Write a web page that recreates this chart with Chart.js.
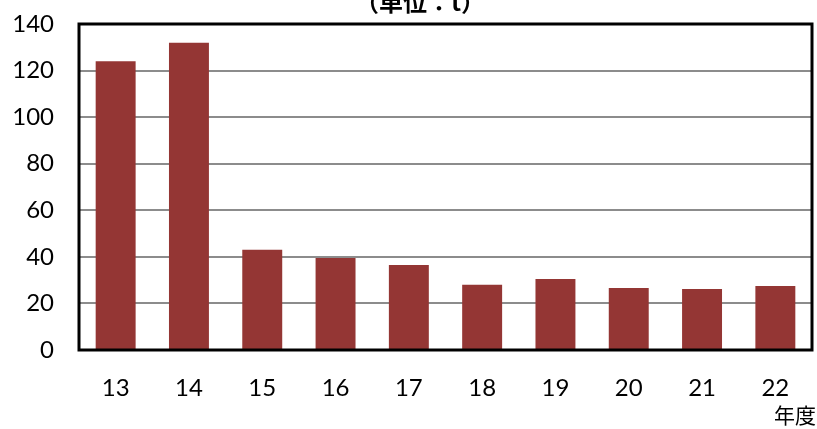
<!DOCTYPE html>
<html>
<head>
<meta charset="utf-8">
<script src="https://cdn.jsdelivr.net/npm/chart.js@4.4.0/dist/chart.umd.min.js"></script>
<style>
  html, body { margin: 0; padding: 0; background: #fff; }
  #wrap { width: 817px; height: 429px; position: relative; }
</style>
</head>
<body>
<div id="wrap"><canvas id="chart"></canvas></div>
<script>
// 年度 labels and amounts (単位：t)
const years = ["13", "14", "15", "16", "17", "18", "19", "20", "21", "22"];
const amounts = [124, 132, 43, 39.5, 36.5, 28, 30.5, 26.6, 26.2, 27.5];
const yTicks = [0, 20, 40, 60, 80, 100, 120, 140];

const FONT = "Lato, 'Noto Sans CJK JP', sans-serif";

// frame around plot area + extra labels
const framePlugin = {
    id: "frame",
    afterDraw(chart) {
        const { ctx, chartArea: a } = chart;
        ctx.save();
        ctx.strokeStyle = "#000";
        ctx.lineWidth = 3;
        ctx.strokeRect(a.left, a.top, a.right - a.left, a.bottom - a.top);

        ctx.fillStyle = "#000";
        ctx.font = "bold 24px 'Noto Sans CJK JP', sans-serif";
        ctx.textAlign = "center";
        ctx.textBaseline = "alphabetic";
        ctx.fillText("（単位：t）", 420, 11);

        ctx.font = "21px 'Noto Sans CJK JP', sans-serif";
        ctx.textAlign = "right";
        ctx.textBaseline = "middle";
        ctx.fillText("年度", 816, 415);
        ctx.restore();
    }
};

new Chart(document.getElementById("chart"), {
    type: "bar",
    data: {
        labels: years,
        datasets: [{
            data: amounts,
            backgroundColor: "#943634",
            borderWidth: 0,
            barPercentage: 0.545,
            categoryPercentage: 1.0
        }]
    },
    options: {
        responsive: true,
        maintainAspectRatio: false,
        animation: false,
        layout: { padding: { top: 24, right: 5, left: 0, bottom: 0 } },
        plugins: {
            legend: { display: false },
            tooltip: { enabled: false }
        },
        scales: {
            x: {
                grid: { display: false, drawTicks: false },
                border: { display: false },
                ticks: { color: "#000", font: { family: FONT, size: 24 }, padding: 24 },
                afterFit(s) { s.height = 79; s.paddingLeft = 0; s.paddingRight = 0; }
            },
            y: {
                min: 0,
                max: 140,
                afterBuildTicks(s) { s.ticks = yTicks.map(v => ({ value: v })); },
                grid: { color: "#8c8c8c", lineWidth: 2, drawTicks: false },
                border: { display: false },
                ticks: { color: "#000", font: { family: FONT, size: 24 }, padding: 25 },
                afterFit(s) { s.width = 79; s.paddingTop = 0; s.paddingBottom = 0; }
            }
        }
    },
    plugins: [framePlugin]
});
</script>
</body>
</html>
